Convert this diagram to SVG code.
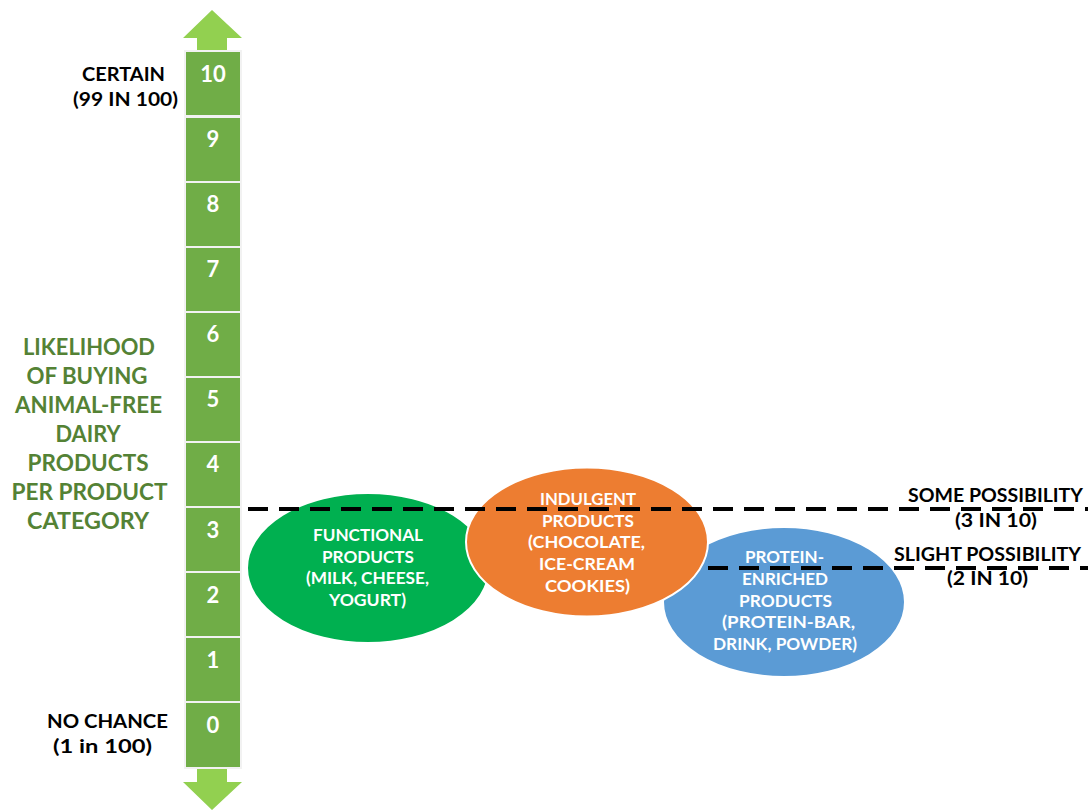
<svg xmlns="http://www.w3.org/2000/svg" width="1088" height="810" viewBox="0 0 1088 810">
<style>
.seg{fill:#70AD47;stroke:#F2F2F2;stroke-width:2}
.num{font-family:Lato,"Liberation Sans",sans-serif;font-weight:700;font-size:22px;fill:#fff;text-anchor:middle}
.arr{fill:#92D050}
.ttl{font-family:Lato,"Liberation Sans",sans-serif;font-weight:700;font-size:22px;fill:#548235;text-anchor:middle}
.lbl{font-family:Lato,"Liberation Sans",sans-serif;font-weight:700;font-size:18px;fill:#000;text-anchor:middle}
.in{font-family:Lato,"Liberation Sans",sans-serif;font-weight:700;font-size:17px;fill:#fff;text-anchor:middle}
.dash{stroke:#000;stroke-width:4;stroke-dasharray:20 11;fill:none}
.ell{stroke:#fff;stroke-width:2}
</style>
<rect width="1088" height="810" fill="#fff"/>
<g id="scale">
<polygon class="arr" points="212,10 242,38 227,38 227,51 197,51 197,38 183,38"/>
<polygon class="arr" points="197,768 227,768 227,782 242,782 212,810 183,782 197,782"/>
<rect class="seg" x="185" y="51" width="56" height="65"/>
<rect class="seg" x="185" y="117" width="56" height="65"/>
<rect class="seg" x="185" y="182" width="56" height="65"/>
<rect class="seg" x="185" y="247" width="56" height="65"/>
<rect class="seg" x="185" y="312" width="56" height="65"/>
<rect class="seg" x="185" y="377" width="56" height="65"/>
<rect class="seg" x="185" y="442" width="56" height="65"/>
<rect class="seg" x="185" y="507" width="56" height="65"/>
<rect class="seg" x="185" y="572" width="56" height="65"/>
<rect class="seg" x="185" y="637" width="56" height="65"/>
<rect class="seg" x="185" y="702" width="56" height="66"/>
<text class="num" x="213" y="82">10</text>
<text class="num" x="213" y="147">9</text>
<text class="num" x="213" y="212">8</text>
<text class="num" x="213" y="277">7</text>
<text class="num" x="213" y="342">6</text>
<text class="num" x="213" y="407">5</text>
<text class="num" x="213" y="472">4</text>
<text class="num" x="213" y="538">3</text>
<text class="num" x="213" y="603">2</text>
<text class="num" x="213" y="668">1</text>
<text class="num" x="213" y="733">0</text>
</g>
<g id="title">
<text class="ttl" x="89" y="355" textLength="132" lengthAdjust="spacingAndGlyphs">LIKELIHOOD</text>
<text class="ttl" x="87" y="384" textLength="121" lengthAdjust="spacingAndGlyphs">OF BUYING</text>
<text class="ttl" x="88.5" y="413" textLength="147" lengthAdjust="spacingAndGlyphs">ANIMAL-FREE</text>
<text class="ttl" x="88" y="442" textLength="65" lengthAdjust="spacingAndGlyphs">DAIRY</text>
<text class="ttl" x="88" y="471" textLength="121" lengthAdjust="spacingAndGlyphs">PRODUCTS</text>
<text class="ttl" x="89.5" y="500" textLength="156" lengthAdjust="spacingAndGlyphs">PER PRODUCT</text>
<text class="ttl" x="88" y="529" textLength="122" lengthAdjust="spacingAndGlyphs">CATEGORY</text>
</g>
<g id="certain">
<text class="lbl" x="123.5" y="81" textLength="83" lengthAdjust="spacingAndGlyphs">CERTAIN</text>
<text class="lbl" x="125.5" y="106" textLength="105" lengthAdjust="spacingAndGlyphs">(99 IN 100)</text>
</g>
<g id="nochance">
<text class="lbl" x="107.5" y="728" textLength="121" lengthAdjust="spacingAndGlyphs">NO CHANCE</text>
<text class="lbl" x="102.5" y="753" textLength="99" lengthAdjust="spacingAndGlyphs">(1 in 100)</text>
</g>
<g id="functional">
<ellipse class="ell" cx="368" cy="568" rx="121" ry="75" fill="#00B050"/>
<text class="in" x="368" y="541" textLength="110" lengthAdjust="spacingAndGlyphs">FUNCTIONAL</text>
<text class="in" x="368" y="563" textLength="92" lengthAdjust="spacingAndGlyphs">PRODUCTS</text>
<text class="in" x="367.5" y="584" textLength="123" lengthAdjust="spacingAndGlyphs">(MILK, CHEESE,</text>
<text class="in" x="367.5" y="606" textLength="77" lengthAdjust="spacingAndGlyphs">YOGURT)</text>
</g>
<g id="protein">
<ellipse class="ell" cx="784" cy="602" rx="121" ry="75" fill="#5B9BD5"/>
<text class="in" x="784.5" y="563" textLength="79" lengthAdjust="spacingAndGlyphs">PROTEIN-</text>
<text class="in" x="785" y="585" textLength="86" lengthAdjust="spacingAndGlyphs">ENRICHED</text>
<text class="in" x="785.5" y="607" textLength="93" lengthAdjust="spacingAndGlyphs">PRODUCTS</text>
<text class="in" x="788.5" y="628" textLength="133" lengthAdjust="spacingAndGlyphs">(PROTEIN-BAR,</text>
<text class="in" x="785" y="650" textLength="144" lengthAdjust="spacingAndGlyphs">DRINK, POWDER)</text>
</g>
<g id="indulgent">
<ellipse class="ell" cx="587" cy="542" rx="121" ry="74.5" fill="#ED7D31"/>
<text class="in" x="588" y="505" textLength="96" lengthAdjust="spacingAndGlyphs">INDULGENT</text>
<text class="in" x="588" y="527" textLength="92" lengthAdjust="spacingAndGlyphs">PRODUCTS</text>
<text class="in" x="586.5" y="548" textLength="117" lengthAdjust="spacingAndGlyphs">(CHOCOLATE,</text>
<text class="in" x="587" y="570" textLength="96" lengthAdjust="spacingAndGlyphs">ICE-CREAM</text>
<text class="in" x="587.5" y="592" textLength="85" lengthAdjust="spacingAndGlyphs">COOKIES)</text>
</g>
<g id="connectors">
<line class="dash" x1="248" y1="509" x2="1088" y2="509"/>
<line class="dash" x1="708" y1="568" x2="1088" y2="568"/>
</g>
<g id="some">
<text class="lbl" x="995.5" y="502" textLength="175" lengthAdjust="spacingAndGlyphs">SOME POSSIBILITY</text>
<text class="lbl" x="996" y="527" textLength="82" lengthAdjust="spacingAndGlyphs">(3 IN 10)</text>
</g>
<g id="slight">
<text class="lbl" x="987.5" y="561" textLength="187" lengthAdjust="spacingAndGlyphs">SLIGHT POSSIBILITY</text>
<text class="lbl" x="987.5" y="585" textLength="81" lengthAdjust="spacingAndGlyphs">(2 IN 10)</text>
</g>
</svg>
